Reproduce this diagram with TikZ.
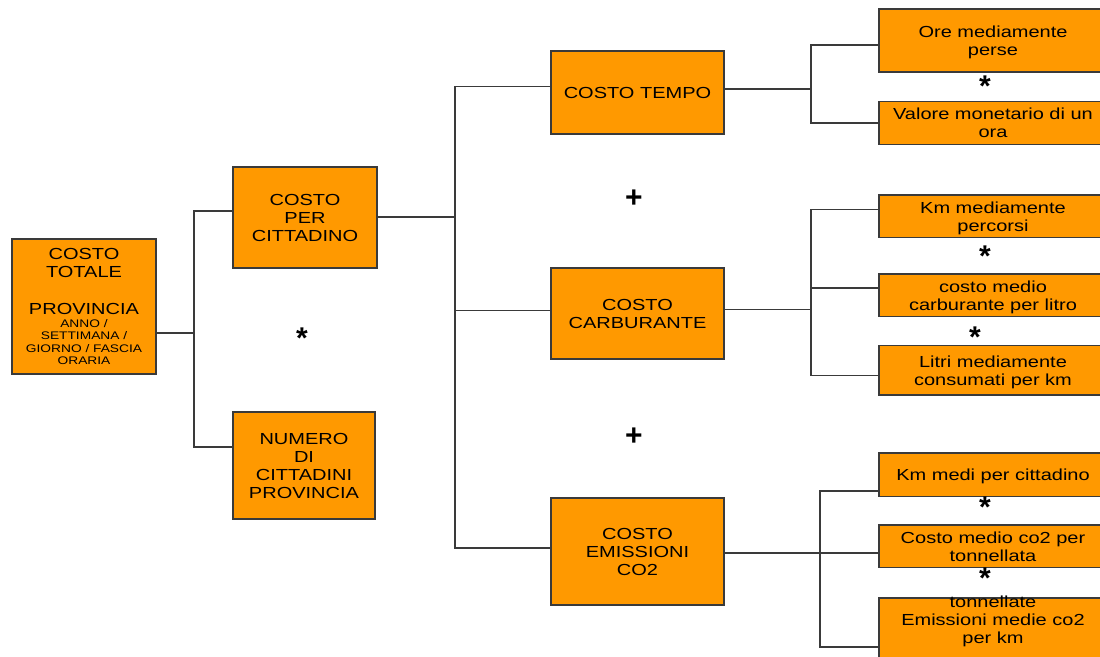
\documentclass[tikz,border=0pt]{standalone}
\usepackage{fontspec}
\setmainfont{Liberation Sans}[FakeStretch=1.25]
\newfontfamily\opfont{Liberation Sans}
\definecolor{org}{HTML}{FF9900}
\definecolor{ln}{HTML}{3A3A3A}
\newcommand\smalltxt[1]{{\fontsize{11}{12.5}\selectfont #1}}
\begin{document}
\begin{tikzpicture}[x=1pt,y=-1pt,
  box/.style={draw=ln, fill=org, line width=1.3pt, inner sep=0pt, align=center,
    text depth=0pt, font=\fontsize{16}{18}\selectfont},
  conn/.style={draw=ln, line width=1.3pt},
  opsign/.style={font=\opfont\bfseries\fontsize{30}{30}\selectfont, inner sep=0pt, anchor=center}]
\clip (0,0) rectangle (1100,656);
% left column
\node[box, minimum width=144pt, minimum height=135pt] (A) at (84,306.5)
  {COSTO\\TOTALE\\[19pt]PROVINCIA\\[-5.4pt]\smalltxt{ANNO /}\\[-5.6pt]\smalltxt{SETTIMANA /}\\[-5.6pt]\smalltxt{GIORNO / FASCIA}\\[-5.6pt]\smalltxt{ORARIA}};
\node[box, minimum width=144pt, minimum height=101pt] (B) at (305,217.5) {COSTO\\PER\\CITTADINO};
\node[box, minimum width=142pt, minimum height=107pt] (C) at (304,465.5) {NUMERO\\DI\\CITTADINI\\PROVINCIA};
% middle column
\node[box, minimum width=173pt, minimum height=83pt] (D) at (637.5,92.5) {COSTO TEMPO};
\node[box, minimum width=173pt, minimum height=91pt] (E) at (637.5,313.5) {COSTO\\CARBURANTE};
\node[box, minimum width=173pt, minimum height=107pt] (F) at (637.5,551.5) {COSTO\\EMISSIONI\\CO2};
% right column
\node[box, minimum width=228pt, minimum height=63pt] (G1) at (993,40.5) {Ore mediamente\\perse};
\node[box, minimum width=228pt, minimum height=42.6pt] (G2) at (993,123) {Valore monetario di un\\ora};
\node[box, minimum width=228pt, minimum height=42.7pt] (H1) at (993,216.3) {Km mediamente\\percorsi};
\node[box, minimum width=228pt, minimum height=42.7pt] (H2) at (993,295.3) {costo medio\\carburante per litro};
\node[box, minimum width=228pt, minimum height=49.3pt] (H3) at (993,370.3) {Litri mediamente\\consumati per km};
\node[box, minimum width=228pt, minimum height=43.7pt] (I1) at (993,474.8) {Km medi per cittadino};
\node[box, minimum width=228pt, minimum height=42.7pt] (I2) at (993,546.3) {Costo medio co2 per\\tonnellata};
\node[box, minimum width=228pt, text height=46pt, text depth=20pt, anchor=north] (I3) at (993,597.3) {tonnellate\\Emissioni medie co2\\per km};
% operators
\node[opsign] (s1) at (302,338) {*};
\node[opsign] (s2) at (985,86) {*};
\node[opsign] (s3) at (985,256) {*};
\node[opsign] (s4) at (975,336.7) {*};
\node[opsign] (s5) at (985,506.7) {*};
\node[opsign] (s6) at (985,578) {*};
\node[opsign] (p1) at (634,199) {+};
\node[opsign] (p2) at (634,437) {+};
% connectors
\coordinate (j1) at (194,333);
\coordinate (j1t) at (194,211);
\coordinate (j1b) at (194,447);
\draw[conn] (A.east |- j1) -- (j1);
\draw[conn] (B.west |- j1t) -- (j1t) -- (j1b) -- (C.west |- j1b);
\coordinate (j2) at (455,217);
\coordinate (j2t) at (455,86.7);
\coordinate (j2m) at (455,310.7);
\coordinate (j2b) at (455,548);
\draw[conn] (B.east |- j2) -- (j2);
\draw[conn] (D.west |- j2t) -- (j2t) -- (j2b) -- (F.west |- j2b);
\draw[conn] (j2m) -- (E.west |- j2m);
\coordinate (j3) at (811,89);
\coordinate (j3t) at (811,45);
\coordinate (j3b) at (811,123);
\draw[conn] (D.east |- j3) -- (j3);
\draw[conn] (G1.west |- j3t) -- (j3t) -- (j3b) -- (G2.west |- j3b);
\coordinate (j4) at (811,309.3);
\coordinate (j4t) at (811,209.3);
\coordinate (j4m) at (811,288);
\coordinate (j4b) at (811,375.3);
\draw[conn] (E.east |- j4) -- (j4);
\draw[conn] (H1.west |- j4t) -- (j4t) -- (j4b) -- (H3.west |- j4b);
\draw[conn] (j4m) -- (H2.west |- j4m);
\coordinate (j5) at (820,553);
\coordinate (j5t) at (820,491);
\coordinate (j5b) at (820,647);
\draw[conn] (F.east |- j5) -- (j5);
\draw[conn] (I1.west |- j5t) -- (j5t) -- (j5b) -- (I3.west |- j5b);
\draw[conn] (j5) -- (I2.west |- j5);
\end{tikzpicture}
\end{document}
